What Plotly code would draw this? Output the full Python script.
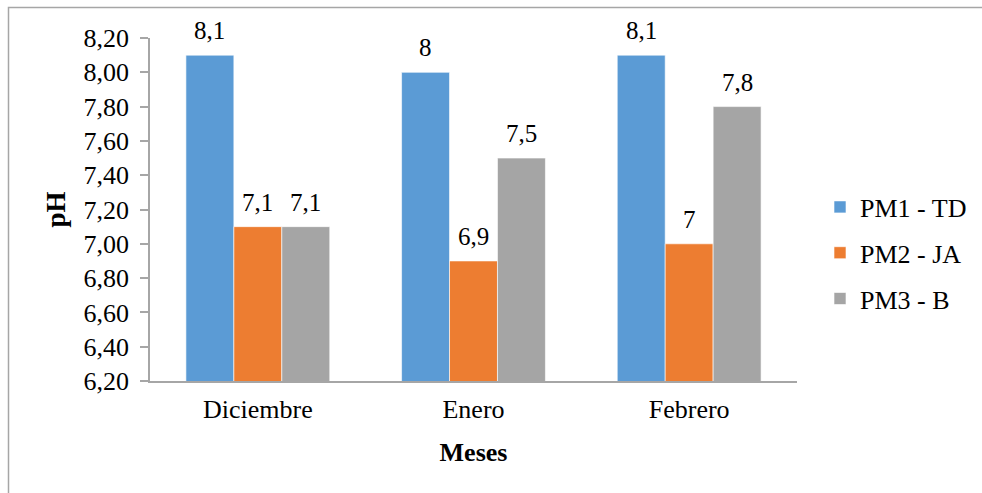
import plotly.graph_objects as go

# pH por punto de muestreo y mes
meses = ["Diciembre", "Enero", "Febrero"]
series = ["PM1 - TD", "PM2 - JA", "PM3 - B"]
pm1_td = [8.1, 8.0, 8.1]
pm2_ja = [7.1, 6.9, 7.0]
pm3_b = [7.1, 7.5, 7.8]
colores = ["#5B9BD5", "#ED7D31", "#A5A5A5"]

W, H = 982, 493
L, R, T, B = 150, 185, 38, 112
pw, ph = W - L - R, H - T - B

serif = "Liberation Serif"


def px_x(p):
    return (p - L) / pw


def px_y(p):
    return (H - B - p) / ph


def etiqueta(v):
    return f"{v:g}".replace(".", ",")


# ancho de cada barra: 2/3 de la categoría repartido entre las series
ancho_cat = pw / len(meses)
ancho_barra = ancho_cat * (1 - 0.333) / len(series)

fig = go.Figure()
todas = [pm1_td, pm2_ja, pm3_b]
for i, (nombre, valores) in enumerate(zip(series, todas)):
    fig.add_trace(go.Bar(
        x=meses,
        y=valores,
        name=nombre,
        legendgroup=nombre,
        marker=dict(color=colores[i], line=dict(color="rgba(255,255,255,0.6)", width=1)),
    ))
    # etiqueta de valor sobre cada barra
    for mes, v in zip(meses, valores):
        fig.add_annotation(
            x=mes, y=v, xref="x", yref="y",
            text=etiqueta(v), showarrow=False,
            xshift=(i - 1) * ancho_barra, yshift=9, yanchor="bottom",
            font=dict(family=serif, size=25, color="#000000"),
        )

fig.update_layout(
    width=W, height=H,
    margin=dict(l=L, r=R, t=T, b=B, autoexpand=False),
    paper_bgcolor="white", plot_bgcolor="white",
    barmode="group", bargap=0.333, bargroupgap=0,
    separators=",.",
    legend=dict(x=px_x(820), y=px_y(253), xanchor="left", yanchor="middle",
                traceorder="grouped", tracegroupgap=9,
                font=dict(family=serif, size=26, color="#000000"),
                bgcolor="rgba(0,0,0,0)"),
    xaxis=dict(showline=True, linecolor="#A6A6A6", linewidth=1.5, ticks="", showgrid=False,
               ticklabelstandoff=4,
               tickfont=dict(family=serif, size=26, color="#000000"),
               title=dict(text="<b>Meses</b>", font=dict(family=serif, size=26, color="#000000"), standoff=20)),
    yaxis=dict(range=[6.2, 8.2], dtick=0.2, tick0=6.2, tickformat=".2f",
               showline=True, linecolor="#A6A6A6", linewidth=1.5,
               ticks="outside", ticklen=8, tickcolor="#A6A6A6", tickwidth=1.5,
               ticklabelstandoff=6,
               showgrid=False, zeroline=False,
               tickfont=dict(family=serif, size=26, color="#000000"),
               title=dict(text="<b>pH</b>", font=dict(family=serif, size=27, color="#000000"), standoff=10)),
)

# marco exterior del gráfico
fig.add_shape(type="path", xref="paper", yref="paper",
              path=f"M {px_x(8.5)},{px_y(500)} L {px_x(8.5)},{px_y(7.5)} L {px_x(990)},{px_y(7.5)}",
              line=dict(color="#A6A6A6", width=1.5), layer="below")

fig.write_html("out.html")
